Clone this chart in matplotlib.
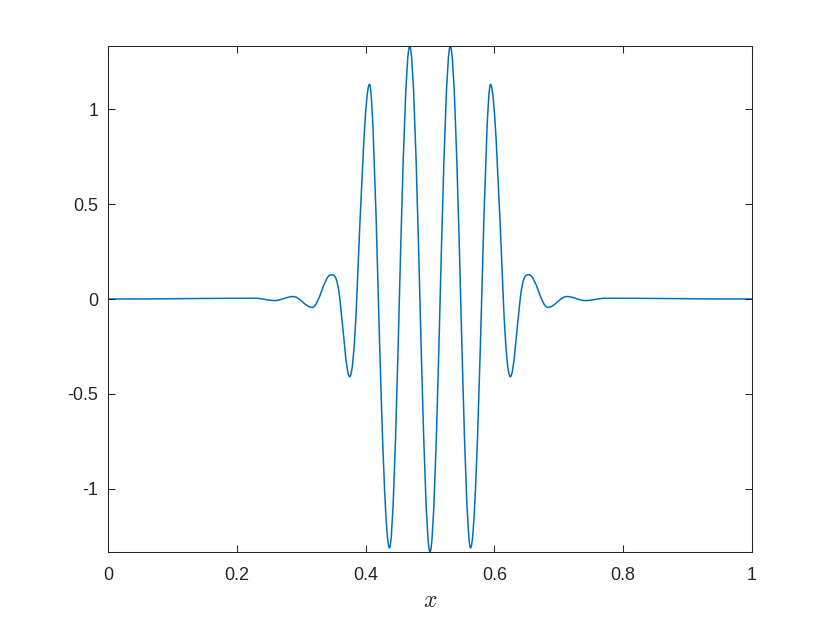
import numpy as np
import matplotlib as mpl
mpl.use("Agg")
import matplotlib.pyplot as plt
from matplotlib.path import Path
from matplotlib.patches import PathPatch

# -- DATA (extrema and zero crossings of the wave packet)
x_pts = [0.0, 0.228, 0.259, 0.2875, 0.317, 0.3463, 0.360, 0.3752, 0.3862,
         0.4060, 0.4198, 0.4370, 0.4524, 0.4685, 0.4843, 0.5, 0.5157, 0.5315,
         0.5476, 0.5630, 0.5802, 0.5940, 0.6138, 0.6248, 0.640, 0.6537, 0.683,
         0.7125, 0.741, 0.772, 1.0]
y_pts = [0.0, 0.004, -0.008, 0.013, -0.044, 0.128, 0.0, -0.409, 0.0,
         1.130, 0.0, -1.310, 0.0, 1.332, 0.0, -1.332, 0.0, 1.332,
         0.0, -1.310, 0.0, 1.130, 0.0, -0.409, 0.0, 0.128, -0.044,
         0.013, -0.008, 0.004, 0.0]

x_ticks = [0, 0.2, 0.4, 0.6, 0.8, 1]
x_tick_labels = ['0', '0.2', '0.4', '0.6', '0.8', '1']
y_ticks = [-1, -0.5, 0, 0.5, 1]
y_tick_labels = ['-1', '-0.5', '0', '0.5', '1']

# -- STYLE --------------------------------------------------------------------
mpl.rcParams.update({
    'font.family': ['Liberation Sans', 'DejaVu Sans'],
    'mathtext.fontset': 'cm',
    'axes.unicode_minus': False,
})
dark = '#262626'
line_col = '#0072BD'

fig = plt.figure(figsize=(8.3, 6.22), dpi=100)
ax = fig.add_axes([0.1301, 0.1125, 0.776, 0.8135])


# -- CURVE: cubic segments (flat at extrema, sine-like slope at crossings) ---
def packet_path(xs, ys):
    n = len(xs)
    slopes = np.zeros(n)
    for i in range(1, n - 1):
        if ys[i] == 0.0:
            slopes[i] = 0.5 * np.pi * (ys[i + 1] - ys[i - 1]) / (xs[i + 1] - xs[i - 1])
    verts = [(xs[0], ys[0])]
    codes = [Path.MOVETO]
    for i in range(n - 1):
        h = xs[i + 1] - xs[i]
        # extremum -> extremum segments use the sine-fit handle length
        k = 0.364 if (slopes[i] == 0 and slopes[i + 1] == 0) else 1 / 3
        verts += [(xs[i] + k * h, ys[i] + k * h * slopes[i]),
                  (xs[i + 1] - k * h, ys[i + 1] - k * h * slopes[i + 1]),
                  (xs[i + 1], ys[i + 1])]
        codes += [Path.CURVE4] * 3
    return Path(verts, codes)


patch = PathPatch(packet_path(x_pts, y_pts), facecolor='none',
                  edgecolor=line_col, lw=1.1, transform=ax.transData)
ax.add_patch(patch)

# -- AXES ---------------------------------------------------------------------
ax.set_xlim(0, 1)
ax.set_ylim(min(y_pts), max(y_pts))
ax.set_xticks(x_ticks)
ax.set_xticklabels(x_tick_labels)
ax.set_yticks(y_ticks)
ax.set_yticklabels(y_tick_labels)
ax.tick_params(direction='in', top=True, right=True, length=5, width=0.75,
               color=dark, labelcolor=dark, labelsize=13)
ax.tick_params(axis='x', pad=11)
ax.tick_params(axis='y', pad=7)
for sp in ax.spines.values():
    sp.set_color(dark)
    sp.set_linewidth(0.75)
ax.set_xlabel(r'$x$', fontsize=17, color=dark, labelpad=4)

fig.savefig('out.png', dpi=100)
